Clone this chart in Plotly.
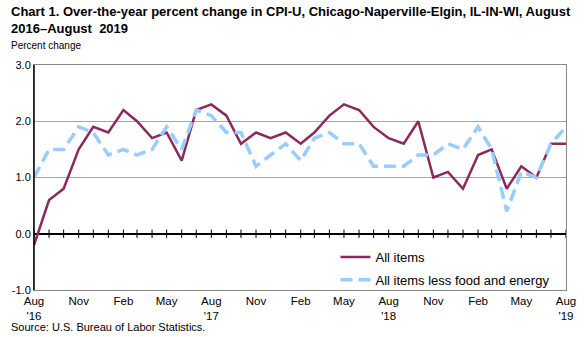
import pandas as pd
import plotly.graph_objects as go

# Monthly dates, August 2016 through August 2019
months = pd.date_range("2016-08-01", "2019-08-01", freq="MS")

# Over-the-year percent change, all items
all_items = [
    -0.2, 0.6, 0.8, 1.5, 1.9, 1.8, 2.2, 2.0, 1.7, 1.8, 1.3, 2.2,
    2.3, 2.1, 1.6, 1.8, 1.7, 1.8, 1.6, 1.8, 2.1, 2.3, 2.2, 1.9,
    1.7, 1.6, 2.0, 1.0, 1.1, 0.8, 1.4, 1.5, 0.8, 1.2, 1.0, 1.6,
    1.6,
]

# Over-the-year percent change, all items less food and energy
core_items = [
    1.0, 1.5, 1.5, 1.9, 1.8, 1.4, 1.5, 1.4, 1.5, 1.9, 1.5, 2.2,
    2.1, 1.8, 1.8, 1.2, 1.4, 1.6, 1.3, 1.7, 1.8, 1.6, 1.6, 1.2,
    1.2, 1.2, 1.4, 1.4, 1.6, 1.5, 1.9, 1.5, 0.4, 1.1, 1.0, 1.6,
    1.9,
]

tick_dates = months[::3]
tick_labels = [
    "Aug<br>'16", "Nov", "Feb", "May", "Aug<br>'17", "Nov", "Feb", "May",
    "Aug<br>'18", "Nov", "Feb", "May", "Aug<br>'19",
]
y_ticks = [-1.0, 0.0, 1.0, 2.0, 3.0]

red = "#8B2A5A"
blue = "#99CCFF"
font = "Liberation Sans, Arial, sans-serif"

# plot area in pixels
W, H = 588, 337
L, R, T, B = 30, 18, 65, 47
px_w = W - L - R
px_h = H - T - B


def px(x, y):
    """Convert page pixel coordinates to paper coordinates."""
    return (x - L) / px_w, 1 - (y - T) / px_h


fig = go.Figure()

# Monthly tick marks crossing the zero line
fig.add_trace(go.Scatter(
    x=months, y=[0] * len(months), mode="markers",
    marker=dict(symbol="line-ns", size=6, line=dict(width=1, color="black")),
    showlegend=False, hoverinfo="skip",
))

fig.add_trace(go.Scatter(
    x=months, y=all_items, mode="lines", name="All items",
    legendgroup="a", line=dict(color=red, width=2.5),
))
fig.add_trace(go.Scatter(
    x=months, y=core_items, mode="lines", name="All items less food and energy",
    legendgroup="b", line=dict(color=blue, width=3.5, dash="12px,6px"),
))

annotations = []
for text, (x, y), size in [
    ("<b>Chart 1. Over-the-year percent change in CPI-U, Chicago-Naperville-Elgin, IL-IN-WI, August<br>2016–August  2019</b>", (5, 2), 13),
    ("Percent change", (5, 38), 10),
    ("Source: U.S. Bureau of Labor Statistics.", (5, 319), 11),
]:
    ax, ay = px(x, y)
    annotations.append(dict(
        text=text, x=ax, y=ay, xref="paper", yref="paper", showarrow=False,
        align="left", xanchor="left", yanchor="top",
        font=dict(size=size, family=font),
    ))

lx, ly = px(336, 242)

fig.update_layout(
    width=W, height=H,
    margin=dict(l=L, r=R, t=T, b=B),
    paper_bgcolor="white", plot_bgcolor="white",
    font=dict(family=font, size=11, color="black"),
    showlegend=True,
    legend=dict(
        x=lx, y=ly, xanchor="left", yanchor="top",
        bgcolor="rgba(255,255,255,0)", borderwidth=0,
        font=dict(size=13, family=font), tracegroupgap=3,
        itemwidth=30,
    ),
    annotations=annotations,
)

fig.update_xaxes(
    range=[months[0], months[-1]],
    tickvals=tick_dates, ticktext=tick_labels,
    showgrid=False, ticks="", zeroline=False,
    showline=True, linecolor="#888888", linewidth=1, mirror=True,
    tickfont=dict(size=11.5, family=font),
)
fig.update_yaxes(
    range=[-1, 3], tickvals=y_ticks,
    ticktext=[f"{v:.1f}" for v in y_ticks],
    showgrid=True, gridcolor="#A6A6A6", gridwidth=1,
    zeroline=True, zerolinecolor="black", zerolinewidth=1.5,
    showline=True, linecolor="#888888", linewidth=1, mirror=True,
    ticks="", tickfont=dict(size=11, family=font),
)

# black left axis line over the frame
fig.add_shape(type="line", xref="paper", yref="paper", x0=0, x1=0, y0=0, y1=1,
              line=dict(color="black", width=1.5))

fig.write_html("out.html")
